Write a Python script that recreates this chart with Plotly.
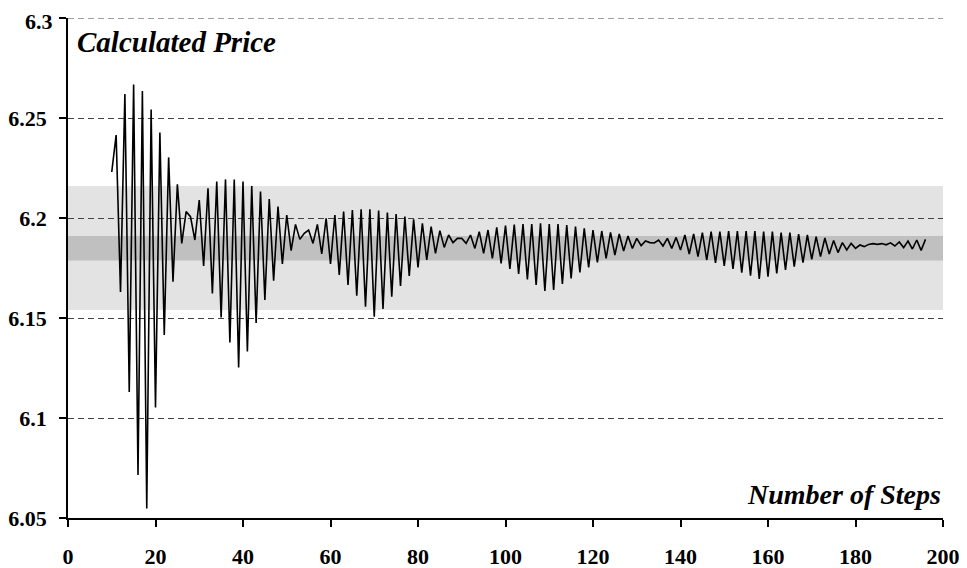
import plotly.graph_objects as go

# number of steps in the tree and the price calculated with it
steps = list(range(10, 197))
price = [
    6.2230, 6.2415, 6.1630, 6.2620, 6.1130, 6.2668, 6.0715, 6.2635, 6.0548, 6.2543,  # 10-19
    6.1053, 6.2428, 6.1415, 6.2303, 6.1682, 6.2168, 6.1873, 6.2032, 6.2007, 6.1890,  # 20-29
    6.2090, 6.1760, 6.2148, 6.1623, 6.2182, 6.1503, 6.2193, 6.1377, 6.2193, 6.1253,  # 30-39
    6.2182, 6.1332, 6.2160, 6.1475, 6.2132, 6.1590, 6.2095, 6.1687, 6.2057, 6.1770,  # 40-49
    6.2015, 6.1837, 6.1968, 6.1893, 6.1923, 6.1940, 6.1873, 6.1968, 6.1820, 6.1998,  # 50-59
    6.1770, 6.2015, 6.1715, 6.2032, 6.1665, 6.2040, 6.1612, 6.2043, 6.1557, 6.2043,  # 60-69
    6.1507, 6.2037, 6.1545, 6.2027, 6.1607, 6.2020, 6.1660, 6.2007, 6.1710, 6.1993,  # 70-79
    6.1753, 6.1973, 6.1790, 6.1957, 6.1823, 6.1937, 6.1853, 6.1915, 6.1877, 6.1898,  # 80-89
    6.1898, 6.1873, 6.1915, 6.1848, 6.1932, 6.1823, 6.1940, 6.1798, 6.1953, 6.1773,  # 90-99
    6.1962, 6.1745, 6.1967, 6.1720, 6.1970, 6.1693, 6.1970, 6.1665, 6.1973, 6.1635,  # 100-109
    6.1970, 6.1640, 6.1970, 6.1670, 6.1965, 6.1698, 6.1957, 6.1728, 6.1948, 6.1753,  # 110-119
    6.1940, 6.1778, 6.1935, 6.1798, 6.1928, 6.1815, 6.1920, 6.1835, 6.1910, 6.1848,  # 120-129
    6.1898, 6.1862, 6.1885, 6.1877, 6.1875, 6.1890, 6.1860, 6.1898, 6.1848, 6.1903,  # 130-139
    6.1840, 6.1915, 6.1820, 6.1920, 6.1807, 6.1927, 6.1790, 6.1932, 6.1775, 6.1932,  # 140-149
    6.1760, 6.1935, 6.1745, 6.1935, 6.1727, 6.1935, 6.1712, 6.1935, 6.1695, 6.1932,  # 150-159
    6.1707, 6.1932, 6.1723, 6.1927, 6.1740, 6.1927, 6.1757, 6.1920, 6.1777, 6.1915,  # 160-169
    6.1793, 6.1907, 6.1807, 6.1900, 6.1820, 6.1887, 6.1827, 6.1877, 6.1840, 6.1873,  # 170-179
    6.1848, 6.1865, 6.1857, 6.1868, 6.1872, 6.1868, 6.1872, 6.1866, 6.1876, 6.1860,  # 180-189
    6.1880, 6.1852, 6.1885, 6.1845, 6.1890, 6.1838, 6.1893,                          # 190-196
]

# shaded bands around the true value
outer_band = [6.154, 6.216]
inner_band = [6.1787, 6.191]

y_ticks = [6.05, 6.1, 6.15, 6.2, 6.25, 6.3]
y_labels = ["6.05", "6.1", "6.15", "6.2", "6.25", "6.3"]
x_ticks = list(range(0, 201, 20))

FONT = "Liberation Serif"
GRID_DASH = "6px,4px"


def main():
    fig = go.Figure()
    fig.add_trace(go.Scatter(x=steps, y=price, mode="lines",
                             line=dict(color="black", width=1.6),
                             showlegend=False, hoverinfo="skip"))

    fig.add_shape(type="rect", xref="paper", x0=0, x1=1, y0=outer_band[0], y1=outer_band[1],
                  fillcolor="#e3e3e3", line_width=0, layer="below")
    fig.add_shape(type="rect", xref="paper", x0=0, x1=1, y0=inner_band[0], y1=inner_band[1],
                  fillcolor="#c0c0c0", line_width=0, layer="below")
    # plotly leaves out the gridline on the top edge, so draw it
    fig.add_shape(type="line", xref="paper", x0=0, x1=1, y0=y_ticks[-1], y1=y_ticks[-1],
                  line=dict(color="#444444", width=1, dash=GRID_DASH), layer="below")

    fig.add_annotation(text="<b><i>Calculated Price</i></b>", xref="paper", yref="paper",
                       x=0.008, y=0.952, xanchor="left", yanchor="middle", showarrow=False,
                       font=dict(family=FONT, size=29, color="black"))
    fig.add_annotation(text="<b><i>Number of Steps</i></b>", xref="paper", yref="paper",
                       x=1.0, y=0.048, xanchor="right", yanchor="middle", showarrow=False,
                       font=dict(family=FONT, size=28, color="black"))

    # the top tick label sits on the figure edge; place it as an annotation kept inside
    tick_text = y_labels[:-1] + [""]
    fig.add_annotation(text="<b>" + y_labels[-1] + "</b>", xref="paper", yref="y",
                       x=0, y=y_ticks[-1], xanchor="right", yanchor="top",
                       xshift=-14, yshift=10, showarrow=False, borderpad=0,
                       font=dict(family=FONT, size=22, color="black"))

    fig.update_xaxes(range=[0, 200], tickvals=x_ticks, showgrid=False, zeroline=False,
                     showline=True, linecolor="black", linewidth=1.5,
                     ticks="outside", ticklen=7, tickwidth=1.5, tickcolor="black",
                     ticklabelstandoff=11, automargin=False,
                     tickfont=dict(family=FONT, size=22, color="black", weight="bold"))
    fig.update_yaxes(range=[6.05, 6.3], tickvals=y_ticks, ticktext=tick_text,
                     showgrid=True, gridcolor="#444444", griddash=GRID_DASH, gridwidth=1,
                     zeroline=False, showline=True, linecolor="black", linewidth=1.5,
                     ticks="outside", ticklen=7, tickwidth=1.5, tickcolor="black",
                     ticklabelstandoff=8, automargin=False,
                     tickfont=dict(family=FONT, size=22, color="black", weight="bold"))

    # the page body adds 8px around the figure, so the figure is 8px smaller
    fig.update_layout(width=959, height=560, plot_bgcolor="white", paper_bgcolor="white",
                      margin=dict(l=60, r=24, t=10, b=50))
    fig.write_html("out.html")


if __name__ == '__main__':
    main()
